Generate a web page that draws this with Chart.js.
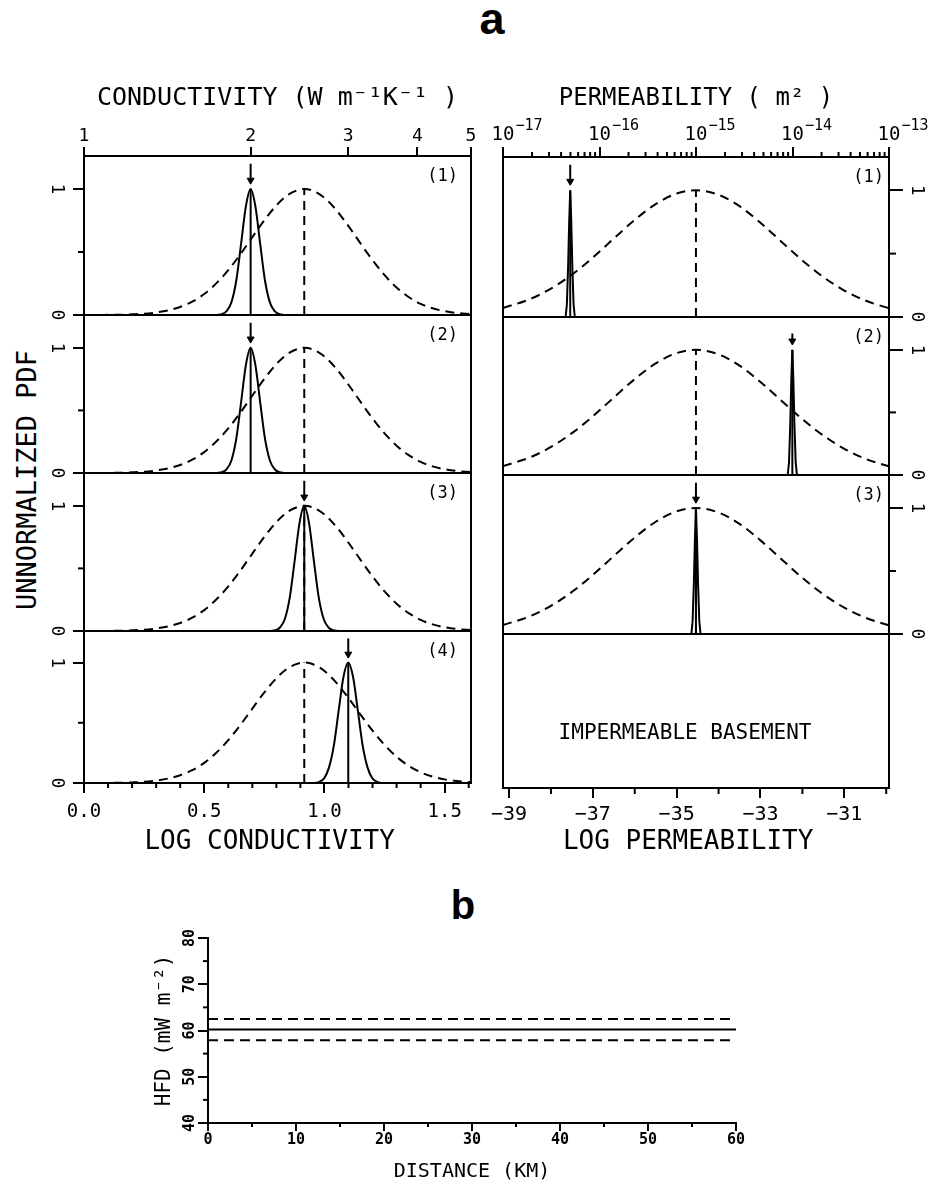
<!DOCTYPE html>
<html>
<head>
<meta charset="utf-8">
<script src="https://cdn.jsdelivr.net/npm/chart.js@4.4.1/dist/chart.umd.min.js"></script>
<style>
  html, body { margin:0; padding:0; background:#fff; }
  body { position:relative; width:931px; height:1185px; overflow:hidden; }
  canvas { position:absolute; }
  .t { position:absolute; white-space:pre; color:#000; line-height:1; }
</style>
</head>
<body>
<div class="t" style="left:492px; top:-4px; transform:translateX(-50%); font:bold 45px/1 'Liberation Sans', Arial, sans-serif;">a</div>
<div class="t" style="left:463px; top:885px; transform:translateX(-50%); font:bold 40px/1 'Liberation Sans', Arial, sans-serif;">b</div>
<div class="t" style="left:26px; top:480px; transform:translate(-50%,-50%) rotate(-90deg); font:27px/1 'DejaVu Sans Mono', monospace;">UNNORMALIZED PDF</div>
<script>
// ================= DATA =================
// --- conductivity column (log conductivity, natural log) ---
const COND_TICKS = [1, 2, 3, 4, 5];
const LOGK_MAJOR = [0, 0.5, 1.0, 1.5];
const LOGK_MINOR = [0.1, 0.2, 0.3, 0.4, 0.6, 0.7, 0.8, 0.9, 1.1, 1.2, 1.3, 1.4, 1.6];
const LOGK_X = [0.00,0.05,0.10,0.15,0.20,0.25,0.30,0.35,0.40,0.45,0.50,0.55,0.60,0.65,0.70,0.75,0.80,0.85,0.90,0.916,0.95,1.00,1.05,1.10,1.15,1.20,1.25,1.30,1.35,1.40,1.45,1.50,1.55,1.609];
const PRIOR_K = [0.000,0.000,0.001,0.002,0.005,0.010,0.020,0.037,0.064,0.106,0.167,0.251,0.356,0.481,0.618,0.752,0.870,0.956,0.997,1.000,0.988,0.930,0.831,0.705,0.568,0.435,0.316,0.218,0.143,0.089,0.053,0.030,0.016,0.007];
const PRIOR_MEAN_K = 0.916;
const POST_K1_X = [0.553,0.573,0.593,0.613,0.633,0.653,0.673,0.693,0.713,0.733,0.753,0.773,0.793,0.813,0.833];
const POST_K2_X = [0.553,0.573,0.593,0.613,0.633,0.653,0.673,0.693,0.713,0.733,0.753,0.773,0.793,0.813,0.833];
const POST_K3_X = [0.776,0.796,0.816,0.836,0.856,0.876,0.896,0.916,0.936,0.956,0.976,0.996,1.016,1.036,1.056];
const POST_K4_X = [0.959,0.979,0.999,1.019,1.039,1.059,1.079,1.099,1.119,1.139,1.159,1.179,1.199,1.219,1.239];
const POST_K_Y  = [0,0.006,0.03,0.10,0.27,0.56,0.86,1,0.86,0.56,0.27,0.10,0.03,0.006,0];
const POST_K4_Y = [0,0.01,0.04,0.13,0.31,0.60,0.88,1,0.88,0.60,0.31,0.13,0.04,0.01,0];
const POST_MEAN_K = [0.693, 0.693, 0.916, 1.099];
const ARROW_TOP_K = [1.2, 1.2, 1.2, 1.2];
const K_LABELS = ['(1)', '(2)', '(3)', '(4)'];

// --- permeability column (log permeability, natural log) ---
const PERM_TICKS = [1e-17, 1e-16, 1e-15, 1e-14, 1e-13];
const PERM_TICK_BASE = '10';
const PERM_TICK_EXP = ['−17', '−16', '−15', '−14', '−13'];
const PERM_LN_MAJOR = [-39, -37, -35, -33, -31];
const PERM_LN_MINOR = [-38, -36, -34, -32, -30];
const PERM_X = [-39.144,-38.5,-38,-37.5,-37,-36.5,-36,-35.5,-35,-34.54,-34,-33.5,-33,-32.5,-32,-31.5,-31,-30.5,-30,-29.934];
const PRIOR_P = [0.071,0.141,0.224,0.334,0.469,0.619,0.766,0.891,0.974,1.000,0.964,0.874,0.743,0.594,0.446,0.315,0.209,0.130,0.076,0.070];
const PRIOR_MEAN_P = -34.54;
const SPIKE1_X = [-37.65,-37.62,-37.59,-37.565,-37.54,-37.515,-37.49,-37.46,-37.43];
const SPIKE2_X = [-32.35,-32.32,-32.29,-32.265,-32.24,-32.215,-32.19,-32.16,-32.13];
const SPIKE3_X = [-34.65,-34.62,-34.59,-34.565,-34.54,-34.515,-34.49,-34.46,-34.43];
const SPIKE_Y  = [0,0.1,0.4,0.75,1,0.75,0.4,0.1,0];
const POST_MEAN_P = [-37.54, -32.24, -34.54];
const ARROW_TOP_P = [1.2, 1.13, 1.2];
const P_LABELS = ['(1)', '(2)', '(3)'];

// --- shared PDF axis ---
const Y_MAJOR = [0, 1];
const Y_MINOR = [0.5];
const Y_LABELS = ['0', '1'];

// --- panel b ---
const DIST = [0, 10, 20, 30, 40, 50, 60];
const HFD_UPPER = [62.5, 62.5, 62.5, 62.5, 62.5, 62.5, 62.5];
const HFD_MEAN  = [60.2, 60.2, 60.2, 60.2, 60.2, 60.2, 60.2];
const HFD_LOWER = [57.9, 57.9, 57.9, 57.9, 57.9, 57.9, 57.9];
const DIST_TICKS = [0, 10, 20, 30, 40, 50, 60];
const DIST_MINOR = [5, 15, 25, 35, 45, 55];
const HFD_TICKS = [40, 50, 60, 70, 80];
const HFD_MINOR = [45, 55, 65, 75];

// ================= SETUP =================
const MONO = "'DejaVu Sans Mono', monospace";
Chart.defaults.font.family = MONO;
Chart.defaults.color = '#000';
const BLACK = '#000';
const Y_MAX = 1.262;
const K_MAX = Math.log(5);
const P_MIN = Math.log(1e-17), P_MAX = Math.log(1e-13);
const ARROW_END = 1.07;

const PERM_MINOR = [];
for (const d of [1e-17, 1e-16, 1e-15, 1e-14]) for (let k = 2; k <= 9; k++) PERM_MINOR.push(k * d);

function gridOpt(len) { return {drawOnChartArea:false, drawTicks:true, tickLength:len, color:BLACK, lineWidth:2}; }
function borderOpt() { return {display:true, color:BLACK, width:2}; }
function fixedTicks(vals) { return s => { s.ticks = vals.map(v => ({value:v})); }; }
function fixH(h) { return s => { s.height = h; s.paddingLeft = 0; s.paddingRight = 0; }; }
function fixW(w) { return s => { s.width = w; s.paddingTop = 0; s.paddingBottom = 0; }; }

function mk(left, top, w, h) {
  const c = document.createElement('canvas');
  c.width = w; c.height = h;
  c.style.left = left + 'px'; c.style.top = top + 'px';
  c.style.width = w + 'px'; c.style.height = h + 'px';
  document.body.appendChild(c);
  return c;
}
function pts(xs, ys) { return xs.map((x, i) => ({x:x, y:ys[i]})); }
function curve(xs, ys, dash, smooth) {
  return {data:pts(xs, ys), borderColor:BLACK, borderWidth:2, borderDash:dash || [],
          pointRadius:0, fill:false, tension:0,
          cubicInterpolationMode: smooth ? 'monotone' : 'default',
          xAxisID:'x', yAxisID:'y'};
}
function vline(x, dash) { return curve([x, x], [0, 1], dash, false); }
function arrow(x, y0, y1) {
  const d = curve([x, x], [y0, y1], null, false);
  d.pointRadius = [0, 4];
  d.pointStyle = 'triangle';
  d.pointRotation = 180;
  d.pointBackgroundColor = BLACK;
  d.pointBorderColor = BLACK;
  d.pointBorderWidth = 1;
  return d;
}

function decorPlugin(cfg) {
  return {
    id: 'decor',
    afterDraw(chart) {
      const ctx = chart.ctx, ca = chart.chartArea;
      ctx.save();
      ctx.strokeStyle = BLACK; ctx.fillStyle = BLACK; ctx.lineWidth = 2; ctx.setLineDash([]);
      if (cfg.box) ctx.strokeRect(ca.left, ca.top, ca.right - ca.left, ca.bottom - ca.top);
      (cfg.minor || []).forEach(m => {
        const s = chart.scales[m.axis];
        m.values.forEach(v => {
          const p = s.getPixelForValue(v);
          ctx.beginPath();
          if (m.side === 'bottom') { ctx.moveTo(p, ca.bottom); ctx.lineTo(p, ca.bottom + m.len); }
          else if (m.side === 'top') { ctx.moveTo(p, ca.top); ctx.lineTo(p, ca.top - m.len); }
          else if (m.side === 'left') { ctx.moveTo(ca.left, p); ctx.lineTo(ca.left - m.len, p); }
          else { ctx.moveTo(ca.right, p); ctx.lineTo(ca.right + m.len, p); }
          ctx.stroke();
        });
      });
      (cfg.yLabels || []).forEach(l => {
        const s = chart.scales[l.axis];
        l.values.forEach((v, i) => {
          const p = s.getPixelForValue(v);
          const x = l.side === 'left' ? ca.left - l.dist : ca.right + l.dist;
          ctx.save();
          ctx.translate(x, p); ctx.rotate(l.rot);
          ctx.font = l.font; ctx.textAlign = 'center'; ctx.textBaseline = 'middle';
          ctx.fillText(l.texts[i], 0, 0);
          ctx.restore();
        });
      });
      if (cfg.powLabels) {
        const l = cfg.powLabels, s = chart.scales[l.axis];
        l.values.forEach((v, i) => {
          const p = s.getPixelForValue(v);
          ctx.font = l.baseFont; ctx.textAlign = 'center'; ctx.textBaseline = 'middle';
          ctx.fillText(l.base, p, ca.top - l.baseDy);
          const bw = ctx.measureText(l.base).width;
          ctx.font = l.expFont; ctx.textAlign = 'left';
          ctx.fillText(l.exps[i], p + bw / 2 + 1, ca.top - l.expDy);
        });
      }
      (cfg.texts || []).forEach(t => {
        ctx.font = t.font; ctx.textAlign = t.align || 'center'; ctx.textBaseline = 'middle';
        const x = t.corner ? ca.right - t.dx : chart.scales.x.getPixelForValue(t.x);
        const y = t.corner ? ca.top + t.dy : chart.scales.y.getPixelForValue(t.y);
        ctx.fillText(t.text, x, y);
      });
      ctx.restore();
    }
  };
}

function makeChart(canvas, datasets, scales, padding, decor) {
  return new Chart(canvas.getContext('2d'), {
    type: 'line',
    data: {datasets: datasets},
    options: {
      responsive:false, animation:false, devicePixelRatio:1, events:[],
      layout: {autoPadding:false, padding:padding},
      plugins: {legend:{display:false}, tooltip:{enabled:false}, title:{display:false}},
      scales: scales
    },
    plugins: [decorPlugin(decor)]
  });
}

// ================= LEFT COLUMN (conductivity) =================
const L_GEOM = [{top:50, h:270, pt:0, pb:5}, {top:310, h:168, pt:5, pb:5}, {top:468, h:168, pt:5, pb:5}, {top:626, h:244, pt:5, pb:0}];
const POST_K_XS = [POST_K1_X, POST_K2_X, POST_K3_X, POST_K4_X];
const POST_K_YS = [POST_K_Y, POST_K_Y, POST_K_Y, POST_K4_Y];

L_GEOM.forEach((g, i) => {
  const cv = mk(0, g.top, 480, g.h);
  const ds = [
    curve(LOGK_X, PRIOR_K, [9, 6], true),
    vline(PRIOR_MEAN_K, [9, 6]),
    curve(POST_K_XS[i], POST_K_YS[i], null, true),
    vline(POST_MEAN_K[i], null),
    arrow(POST_MEAN_K[i], ARROW_TOP_K[i], ARROW_END)
  ];
  const scales = {
    x: {type:'linear', position:'bottom', min:0, max:K_MAX, display:false},
    y: {type:'linear', position:'left', min:0, max:Y_MAX,
        afterBuildTicks: fixedTicks(Y_MAJOR), afterFit: fixW(84),
        ticks:{display:false}, grid:gridOpt(11), border:borderOpt()}
  };
  const minor = [{axis:'y', side:'left', values:Y_MINOR, len:6}];
  if (i === 3) {
    scales.x = {type:'linear', position:'bottom', min:0, max:K_MAX, display:true,
      afterBuildTicks: fixedTicks(LOGK_MAJOR), afterFit: fixH(87),
      ticks:{autoSkip:false, maxRotation:0, minRotation:0, padding:7.5, font:{size:19}, callback: v => Number(v).toFixed(1)},
      grid:gridOpt(10), border:borderOpt(),
      title:{display:true, text:'LOG CONDUCTIVITY ', font:{size:26}, padding:{top:0, bottom:12}}};
    minor.push({axis:'x', side:'bottom', values:LOGK_MINOR, len:5});
  }
  if (i === 0) {
    scales.xTop = {type:'logarithmic', position:'top', min:1, max:5,
      afterBuildTicks: fixedTicks(COND_TICKS), afterFit: fixH(106),
      ticks:{autoSkip:false, maxRotation:0, minRotation:0, padding:0, font:{size:18}, callback: v => String(v)},
      grid:gridOpt(9), border:borderOpt(),
      title:{display:true, text:'CONDUCTIVITY (W m⁻¹K⁻¹ )', font:{size:25}, padding:{top:33, bottom:0}}};
  }
  makeChart(cv, ds, scales, {left:0, right:9, top:g.pt, bottom:g.pb}, {
    box:true,
    minor:minor,
    yLabels:[{axis:'y', side:'left', dist:27, values:Y_MAJOR, texts:Y_LABELS, font:'18px ' + MONO, rot:Math.PI / 2}],
    texts:[{corner:true, dx:13, dy:21, text:K_LABELS[i], font:'17px ' + MONO, align:'right'}]
  });
});

// ================= RIGHT COLUMN (permeability) =================
const R_GEOM = [{top:50, h:272, pt:0, pb:5}, {top:312, h:168, pt:5, pb:5}, {top:470, h:169, pt:5, pb:5}, {top:629, h:241, pt:5, pb:0}];
const SPIKE_XS = [SPIKE1_X, SPIKE2_X, SPIKE3_X];

R_GEOM.forEach((g, i) => {
  const cv = mk(480, g.top, 451, g.h);
  let ds = [];
  const scales = {
    x: {type:'linear', position:'bottom', min:P_MIN, max:P_MAX, display:false},
    y: {type:'linear', position:'right', min:0, max:Y_MAX, display:false}
  };
  const minor = [];
  const texts = [];
  const yLabels = [];
  let powLabels = null;
  if (i < 3) {
    ds = [
      curve(PERM_X, PRIOR_P, [9, 6], true),
      vline(PRIOR_MEAN_P, [9, 6]),
      curve(SPIKE_XS[i], SPIKE_Y, null, false),
      vline(POST_MEAN_P[i], null),
      arrow(POST_MEAN_P[i], ARROW_TOP_P[i], ARROW_END)
    ];
    scales.y = {type:'linear', position:'right', min:0, max:Y_MAX, display:true,
      afterBuildTicks: fixedTicks(Y_MAJOR), afterFit: fixW(42),
      ticks:{display:false}, grid:gridOpt(14), border:borderOpt()};
    minor.push({axis:'y', side:'right', values:Y_MINOR, len:7});
    yLabels.push({axis:'y', side:'right', dist:28, values:Y_MAJOR, texts:Y_LABELS, font:'18px ' + MONO, rot:Math.PI / 2});
    texts.push({corner:true, dx:5, dy:21, text:P_LABELS[i], font:'17px ' + MONO, align:'right'});
  } else {
    texts.push({x:-34.8, y:0.45, text:'IMPERMEABLE BASEMENT', font:'21px ' + MONO, align:'center'});
    scales.x = {type:'linear', position:'bottom', min:P_MIN, max:P_MAX, display:true,
      afterBuildTicks: fixedTicks(PERM_LN_MAJOR), afterFit: fixH(82),
      ticks:{autoSkip:false, maxRotation:0, minRotation:0, padding:5, font:{size:20}, callback: v => String(v).replace('-', '−')},
      grid:gridOpt(10), border:borderOpt(),
      title:{display:true, text:'LOG PERMEABILITY ', font:{size:26}, padding:{top:0, bottom:12}}};
    minor.push({axis:'x', side:'bottom', values:PERM_LN_MINOR, len:6});
  }
  if (i === 0) {
    scales.xTop = {type:'logarithmic', position:'top', min:1e-17, max:1e-13,
      afterBuildTicks: fixedTicks(PERM_TICKS), afterFit: fixH(107),
      ticks:{display:false},
      grid:gridOpt(10), border:borderOpt(),
      title:{display:true, text:'PERMEABILITY ( m² )', font:{size:24}, padding:{top:34.6, bottom:0}}};
    minor.push({axis:'xTop', side:'top', values:PERM_MINOR, len:5});
    powLabels = {axis:'xTop', values:PERM_TICKS, base:PERM_TICK_BASE, exps:PERM_TICK_EXP,
                 baseFont:'19px ' + MONO, expFont:'15px ' + MONO, baseDy:22, expDy:31};
  }
  makeChart(cv, ds, scales, {left:23, right: i < 3 ? 0 : 42, top:g.pt, bottom:g.pb}, {
    box:true, minor:minor, yLabels:yLabels, texts:texts, powLabels:powLabels
  });
});

// ================= PANEL b =================
const cvb = mk(100, 880, 700, 305);
makeChart(cvb, [
    curve(DIST, HFD_UPPER, [10, 6], false),
    curve(DIST, HFD_MEAN, null, false),
    curve(DIST, HFD_LOWER, [10, 6], false)
  ], {
    x: {type:'linear', position:'bottom', min:0, max:60,
        afterBuildTicks: fixedTicks(DIST_TICKS), afterFit: fixH(62),
        ticks:{autoSkip:false, maxRotation:0, minRotation:0, padding:0, font:{size:15, weight:'bold'}},
        grid:gridOpt(8), border:borderOpt(),
        title:{display:true, text:'DISTANCE (KM)', font:{size:20}, padding:{top:0, bottom:1}}},
    y: {type:'linear', position:'left', min:40, max:80,
        afterBuildTicks: fixedTicks(HFD_TICKS), afterFit: fixW(108),
        ticks:{display:false}, grid:gridOpt(10), border:borderOpt(),
        title:{display:true, text:'HFD (mW m⁻²)', font:{size:21}, padding:{top:52, bottom:0}}}
  }, {left:0, right:64, top:58, bottom:0}, {
    box:false,
    minor:[{axis:'y', side:'left', values:HFD_MINOR, len:5}, {axis:'x', side:'bottom', values:DIST_MINOR, len:4}],
    yLabels:[{axis:'y', side:'left', dist:18, values:HFD_TICKS, texts:HFD_TICKS.map(String), font:'bold 15px ' + MONO, rot:-Math.PI / 2}]
  });
</script>
</body>
</html>
